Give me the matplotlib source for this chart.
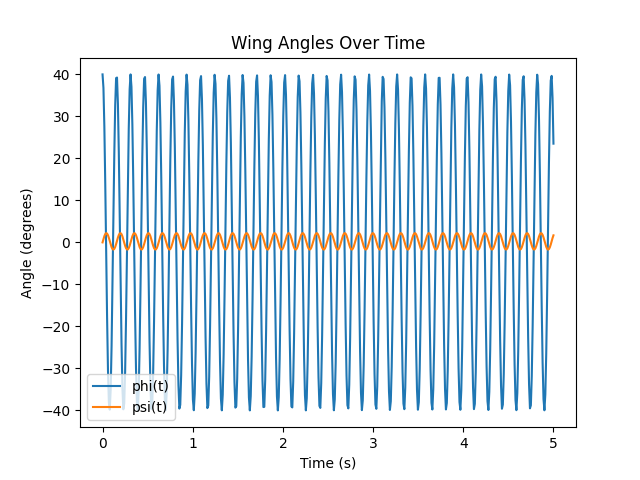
import numpy as np
import matplotlib
matplotlib.use("Agg")
import matplotlib.pyplot as plt

# Values
t_start, t_end, n_samples = 0.0, 5.0, 500
phi_amplitude = 40.0          # degrees
psi_amplitude = 1.95          # degrees
psi_offset = 0.25             # degrees
flap_frequency = 6.43         # Hz

t = np.linspace(t_start, t_end, n_samples)
omega = 2 * np.pi * flap_frequency
phi = phi_amplitude * np.cos(omega * t)
psi = psi_offset + psi_amplitude * np.sin(omega * t) - psi_offset * np.cos(omega * t)

fig, ax = plt.subplots(figsize=(6.4, 4.8), dpi=100)
ax.plot(t, phi, label="phi(t)")
ax.plot(t, psi, label="psi(t)")
ax.set_title("Wing Angles Over Time")
ax.set_xlabel("Time (s)")
ax.set_ylabel("Angle (degrees)")
ax.legend(loc="lower left")
fig.savefig("out.png")
